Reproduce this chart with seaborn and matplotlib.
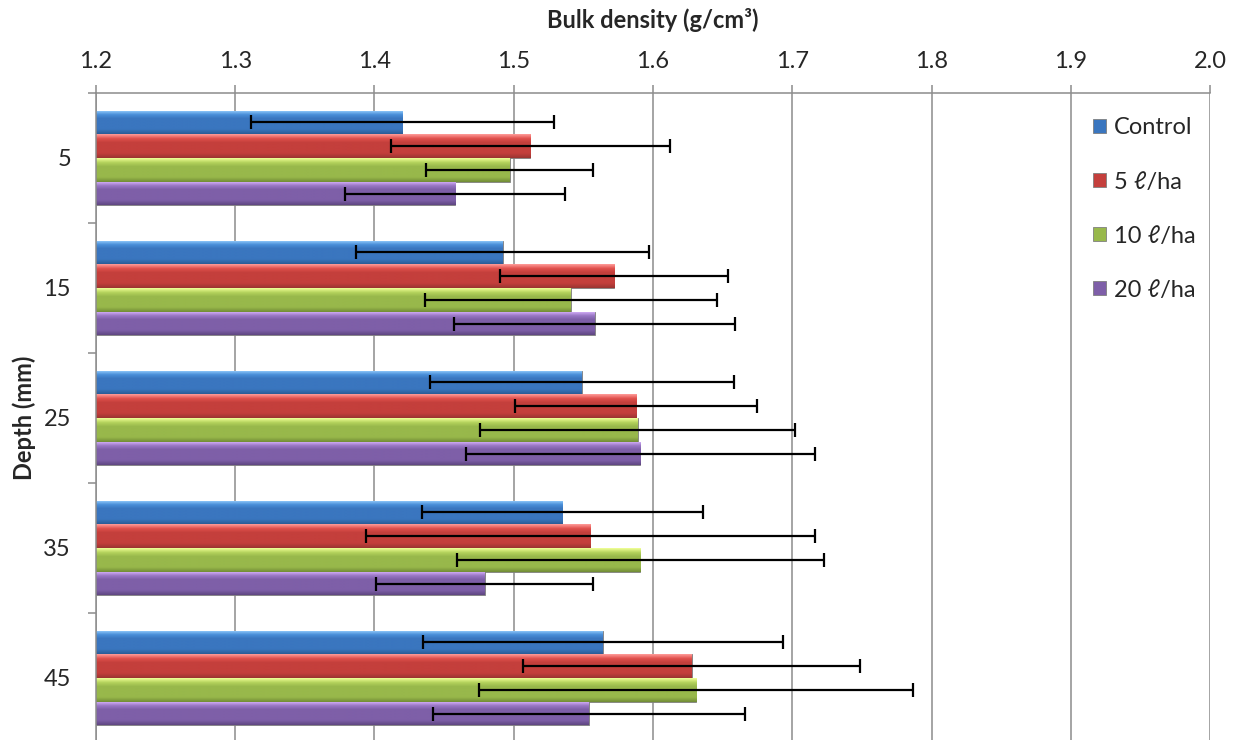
import numpy as np
import pandas as pd
import matplotlib
matplotlib.use('Agg')
import matplotlib.pyplot as plt
from matplotlib.colors import LinearSegmentedColormap
from matplotlib.patches import Patch
import seaborn as sns

# values
depths = ['5', '15', '25', '35', '45']
treatments = ['Control', '5 ℓ/ha', '10 ℓ/ha', '20 ℓ/ha']
density = {
    'Control': [1.420, 1.492, 1.549, 1.535, 1.564],
    '5 ℓ/ha':  [1.512, 1.572, 1.588, 1.555, 1.628],
    '10 ℓ/ha': [1.497, 1.541, 1.589, 1.591, 1.631],
    '20 ℓ/ha': [1.458, 1.558, 1.591, 1.479, 1.554],
}
err = {
    'Control': [0.109, 0.105, 0.109, 0.101, 0.129],
    '5 ℓ/ha':  [0.100, 0.082, 0.087, 0.161, 0.121],
    '10 ℓ/ha': [0.060, 0.105, 0.113, 0.132, 0.156],
    '20 ℓ/ha': [0.079, 0.101, 0.125, 0.078, 0.112],
}
x_ticks = [1.2, 1.3, 1.4, 1.5, 1.6, 1.7, 1.8, 1.9, 2.0]
x_min, x_max = 1.2, 2.0

# office-2007 style bevel colours: highlight, light, base, shade
shades = {
    'Control': ['#9bd2ff', '#4a8fd9', '#3a76bf', '#2d5d96'],
    '5 ℓ/ha':  ['#ff9a98', '#e0504c', '#c43f3c', '#9b3431'],
    '10 ℓ/ha': ['#f0ff96', '#b4d25c', '#98b84b', '#728c37'],
    '20 ℓ/ha': ['#dcb6ff', '#9a78c6', '#7e5fa8', '#5f4782'],
}
base_colors = {t: shades[t][2] for t in treatments}

rows = []
for t in treatments:
    for d, v in zip(depths, density[t]):
        rows.append({'depth': d, 'treatment': t, 'density': v})
df = pd.DataFrame(rows)

sns.set_style('white')
plt.rcParams['font.family'] = ['Lato', 'DejaVu Sans']

fig = plt.figure(figsize=(12.38, 7.40), dpi=100)
ax = fig.add_axes([96 / 1238, -3 / 740, 1114 / 1238, 650 / 740])

sns.barplot(data=df, x='density', y='depth', hue='treatment', order=depths,
            hue_order=treatments, palette=base_colors, orient='h', width=0.73,
            errorbar=None, legend=False, ax=ax, zorder=2)

# gradient fill + error bars on every bar
grad = np.linspace(0, 1, 64).reshape(-1, 1)
for t, cont in zip(treatments, ax.containers):
    cmap = LinearSegmentedColormap.from_list(
        t, [(0, shades[t][0]), (0.18, shades[t][1]), (0.35, shades[t][2]),
            (0.8, shades[t][2]), (1.0, shades[t][3])])
    for j, bar in enumerate(cont):
        y0, h, w = bar.get_y(), bar.get_height(), bar.get_width()
        bar.set_edgecolor('#7f7f7f')
        bar.set_linewidth(0.6)
        img = ax.imshow(grad, cmap=cmap, aspect='auto', origin='upper',
                        extent=(x_min, w, y0 + h, y0), zorder=2.5)
        img.set_clip_path(bar)
        ax.errorbar(w, y0 + h / 2, xerr=err[t][j], fmt='none', ecolor='black',
                    elinewidth=1.6, capsize=5, capthick=1.6, zorder=4)

ax.set_xlim(x_min, x_max)
ax.set_ylim(4.5, -0.5)
ax.set_xticks(x_ticks)
ax.set_xticklabels([f'{v:.1f}' for v in x_ticks])
ax.xaxis.tick_top()
ax.xaxis.set_label_position('top')
ax.set_yticks(range(len(depths)))
ax.set_yticklabels(depths)
ax.set_yticks(np.arange(-0.5, 5.0, 1.0), minor=True)

ax.grid(axis='x', color='#8c8c8c', linewidth=1.1)
ax.set_axisbelow(True)
for s in ['right', 'bottom']:
    ax.spines[s].set_visible(False)
for s in ['left', 'top']:
    ax.spines[s].set_color('#8c8c8c')
    ax.spines[s].set_linewidth(1.1)

ax.tick_params(axis='x', which='major', top=True, length=6, width=1.1,
               color='#8c8c8c', labelsize=17, pad=9)
ax.tick_params(axis='y', which='major', left=False, labelsize=17, pad=14.5)
ax.tick_params(axis='y', which='minor', left=True, length=6, width=1.1,
               color='#8c8c8c')

ax.set_xlabel('Bulk density (g/cm³)', fontsize=17, fontweight='bold', labelpad=17)
ax.set_ylabel('Depth (mm)', fontsize=17, fontweight='bold', labelpad=5.5)

handles = [Patch(facecolor=shades[t][2], edgecolor='#7f7f7f', linewidth=0.6)
           for t in treatments]
ax.legend(handles, treatments, loc='upper left', bbox_to_anchor=(1084 / 1238, 1 - 108 / 740),
          bbox_transform=fig.transFigure, frameon=False, fontsize=17,
          handlelength=0.55, handleheight=0.55, handletextpad=0.3,
          labelspacing=1.4, borderaxespad=0)

fig.savefig('out.png', dpi=100)
